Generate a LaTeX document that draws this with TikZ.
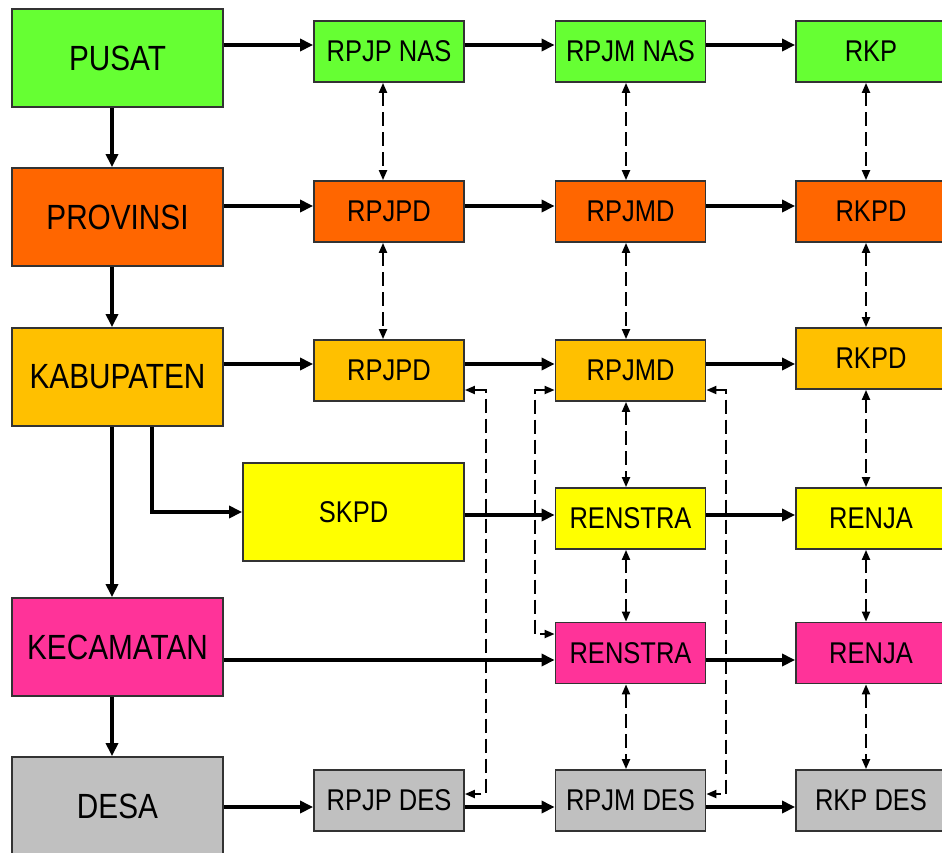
\documentclass[tikz,border=0pt]{standalone}
\usepackage{fontspec}
\setmainfont{Liberation Sans}[FakeStretch=0.85]
\usetikzlibrary{arrows.meta}

\definecolor{pusatgreen}{HTML}{66FF33}
\definecolor{provorange}{HTML}{FF6600}
\definecolor{kabamber}{HTML}{FFC000}
\definecolor{skpdyellow}{HTML}{FFFF00}
\definecolor{kecpink}{HTML}{FF3399}
\definecolor{desagray}{HTML}{C0C0C0}

\tikzset{
  lvlbox/.style={draw=black!80, line width=1.8pt, minimum width=211pt, minimum height=98pt, inner sep=0pt, font=\fontsize{35}{40}\selectfont},
  docbox/.style={draw=black!80, line width=1.8pt, minimum width=150pt, minimum height=61pt, inner sep=0pt, font=\fontsize{30}{36}\selectfont},
  flowarr/.style={-{Triangle[length=13pt,width=12pt]}, line width=4pt},
  linkarr/.style={{Triangle[length=10pt,width=8pt]}-{Triangle[length=10pt,width=8pt]}, line width=2pt, dash pattern=on 14pt off 6pt}
}

\begin{document}
\begin{tikzpicture}[x=1pt,y=-1pt]
        \useasboundingbox (0,0) rectangle (942,852);

        % level of government
        \node[lvlbox, fill=pusatgreen] (pusat) at (117.5,58) {PUSAT};
        \node[lvlbox, fill=provorange] (prov) at (117.5,217) {PROVINSI};
        \node[lvlbox, fill=kabamber] (kab) at (117.5,377) {KABUPATEN};
        \node[lvlbox, fill=kecpink] (kec) at (117.5,647) {KECAMATAN};
        \node[lvlbox, fill=desagray] (desa) at (117.5,806) {DESA};

        % long term plans
        \node[docbox, fill=pusatgreen] (rpjpnas) at (389,51.5) {RPJP NAS};
        \node[docbox, fill=provorange] (rpjpdprov) at (389,211.5) {RPJPD};
        \node[docbox, fill=kabamber] (rpjpdkab) at (389,370.5) {RPJPD};
        \node[docbox, fill=skpdyellow, minimum width=221pt, minimum height=98pt] (skpd) at (353.5,512) {SKPD};
        \node[docbox, fill=desagray] (rpjpdes) at (389,800.5) {RPJP DES};

        % medium term plans
        \node[docbox, fill=pusatgreen] (rpjmnas) at (630.5,51.5) {RPJM NAS};
        \node[docbox, fill=provorange] (rpjmdprov) at (630.5,211.5) {RPJMD};
        \node[docbox, fill=kabamber] (rpjmdkab) at (630.5,370.5) {RPJMD};
        \node[docbox, fill=skpdyellow] (renstraskpd) at (630.5,518.5) {RENSTRA};
        \node[docbox, fill=kecpink] (renstrakec) at (630.5,653) {RENSTRA};
        \node[docbox, fill=desagray] (rpjmdes) at (630.5,800.5) {RPJM DES};

        % annual plans
        \node[docbox, fill=pusatgreen] (rkp) at (871,51.5) {RKP};
        \node[docbox, fill=provorange] (rkpdprov) at (871,211.5) {RKPD};
        \node[docbox, fill=kabamber] (rkpdkab) at (871,358.5) {RKPD};
        \node[docbox, fill=skpdyellow] (renjaskpd) at (871,518.5) {RENJA};
        \node[docbox, fill=kecpink] (renjakec) at (871,653) {RENJA};
        \node[docbox, fill=desagray] (rkpdes) at (871,800.5) {RKP DES};

        % flow along the rows
        \draw[flowarr] ([yshift=13pt]pusat.east) -- ([yshift=6.5pt]rpjpnas.west);
        \draw[flowarr] ([yshift=6.5pt]rpjpnas.east) -- ([yshift=6.5pt]rpjmnas.west);
        \draw[flowarr] ([yshift=6.5pt]rpjmnas.east) -- ([yshift=6.5pt]rkp.west);

        \draw[flowarr] ([yshift=11pt]prov.east) -- ([yshift=5.5pt]rpjpdprov.west);
        \draw[flowarr] ([yshift=5.5pt]rpjpdprov.east) -- ([yshift=5.5pt]rpjmdprov.west);
        \draw[flowarr] ([yshift=5.5pt]rpjmdprov.east) -- ([yshift=5.5pt]rkpdprov.west);

        \draw[flowarr] ([yshift=13pt]kab.east) -- ([yshift=6.5pt]rpjpdkab.west);
        \draw[flowarr] ([yshift=6.5pt]rpjpdkab.east) -- ([yshift=6.5pt]rpjmdkab.west);
        \draw[flowarr] ([yshift=6.5pt]rpjmdkab.east) -- ([yshift=-5.5pt]rkpdkab.west);

        \draw[flowarr] ([xshift=34.5pt]kab.south) |- (skpd.west);
        \draw[flowarr] ([yshift=-3pt]skpd.east) -- ([yshift=3.5pt]renstraskpd.west);
        \draw[flowarr] ([yshift=3.5pt]renstraskpd.east) -- ([yshift=3.5pt]renjaskpd.west);

        \draw[flowarr] ([yshift=-13pt]kec.east) -- ([yshift=-7pt]renstrakec.west);
        \draw[flowarr] ([yshift=-7pt]renstrakec.east) -- ([yshift=-7pt]renjakec.west);

        \draw[flowarr] ([yshift=-1pt]desa.east) -- ([yshift=-6.5pt]rpjpdes.west);
        \draw[flowarr] ([yshift=-6.5pt]rpjpdes.east) -- ([yshift=-6.5pt]rpjmdes.west);
        \draw[flowarr] ([yshift=-6.5pt]rpjmdes.east) -- ([yshift=-6.5pt]rkpdes.west);

        % flow down the levels
        \draw[flowarr] ([xshift=-5.5pt]pusat.south) -- ([xshift=-5.5pt]prov.north);
        \draw[flowarr] ([xshift=-5.5pt]prov.south) -- ([xshift=-5.5pt]kab.north);
        \draw[flowarr] ([xshift=-5.5pt]kab.south) -- ([xshift=-5.5pt]kec.north);
        \draw[flowarr] ([xshift=-5.5pt]kec.south) -- ([xshift=-5.5pt]desa.north);

        % links between plans
        \draw[linkarr] ([xshift=-6pt]rpjpnas.south) -- ([xshift=-6pt]rpjpdprov.north);
        \draw[linkarr] ([xshift=-6pt]rpjpdprov.south) -- ([xshift=-6pt]rpjpdkab.north);

        \draw[linkarr] ([xshift=-4.5pt]rpjmnas.south) -- ([xshift=-4.5pt]rpjmdprov.north);
        \draw[linkarr] ([xshift=-4.5pt]rpjmdprov.south) -- ([xshift=-4.5pt]rpjmdkab.north);
        \draw[linkarr] ([xshift=-4.5pt]rpjmdkab.south) -- ([xshift=-4.5pt]renstraskpd.north);
        \draw[linkarr] ([xshift=-4.5pt]renstraskpd.south) -- ([xshift=-4.5pt]renstrakec.north);
        \draw[linkarr] ([xshift=-4.5pt]renstrakec.south) -- ([xshift=-4.5pt]rpjmdes.north);

        \draw[linkarr] ([xshift=-5pt]rkp.south) -- ([xshift=-5pt]rkpdprov.north);
        \draw[linkarr] ([xshift=-5pt]rkpdprov.south) -- ([xshift=-5pt]rkpdkab.north);
        \draw[linkarr] ([xshift=-5pt]rkpdkab.south) -- ([xshift=-5pt]renjaskpd.north);
        \draw[linkarr] ([xshift=-5pt]renjaskpd.south) -- ([xshift=-5pt]renjakec.north);
        \draw[linkarr] ([xshift=-5pt]renjakec.south) -- ([xshift=-5pt]rkpdes.north);

        \draw[linkarr] ([yshift=-19.5pt]rpjpdkab.east) -- ++(21,0) |- ([yshift=6.5pt]rpjpdes.east);
        \draw[linkarr] ([yshift=-19.5pt]rpjmdkab.west) -- ++(-20,0) |- ([yshift=19pt]renstrakec.west);
        \draw[linkarr] ([yshift=-19.5pt]rpjmdkab.east) -- ++(20,0) |- ([yshift=6.5pt]rpjmdes.east);
    \end{tikzpicture}
\end{document}
